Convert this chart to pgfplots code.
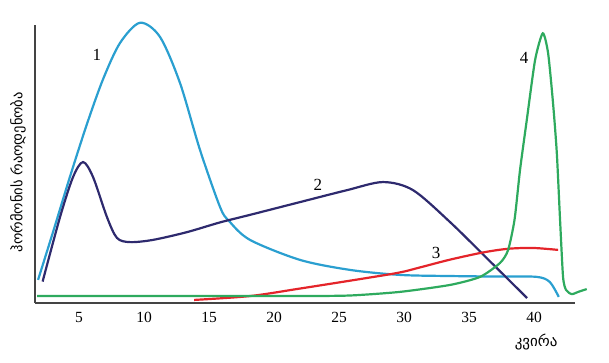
\documentclass[border=0pt]{standalone}
\usepackage{pgfplots}
\pgfplotsset{compat=1.18}
\usepackage{fontspec}
\setmainfont{Liberation Serif}
\newfontfamily\geo{DejaVu Sans}
\definecolor{cA}{HTML}{2A9FD0}
\definecolor{cB}{HTML}{2E2A6E}
\definecolor{cC}{HTML}{E4242A}
\definecolor{cD}{HTML}{2EAA5E}
\definecolor{axc}{HTML}{444444}
\begin{document}
\begin{tikzpicture}
\useasboundingbox (-35pt,-60pt) rectangle (574pt,303pt);
\begin{axis}[
  at={(0pt,0pt)}, anchor=south west,
  scale only axis, width=540pt, height=278pt,
  xmin=1.615, xmax=43.15, ymin=0, ymax=100,
  axis lines=left,
  axis line style={axc, line width=1.3pt, -},
  xtick={5,10,...,40}, ytick=\empty,
  major tick length=0pt,
  tick label style={font=\fontsize{15.5}{18}\selectfont},
  /pgf/number format/assume math mode=true,
  xticklabel style={yshift=-6pt},
  clip=false,
  xlabel={\geo კვირა},
  xlabel style={at={(axis description cs:0.928,-0.140)}, anchor=center, font=\fontsize{15}{17}\selectfont},
  ylabel={\geo ჰორმონის რაოდენობა},
  ylabel style={at={(axis description cs:-0.0315,0.471)}, anchor=center, rotate=0, font=\fontsize{14.5}{17}\selectfont},
  every axis plot/.append style={line width=2.2pt, no marks},
]
% 1
\addplot[cA, smooth, tension=0.5] coordinates {
(1.85,8.3) (3.0,25.5) (4.31,45.5) (5.62,64.5) (6.85,80.5) (8.15,93.5) (9.69,100.8)
(11.23,95.7) (12.77,79.1) (14.31,55.0) (15.85,34.5) (16.54,29.5) (18.15,22.7)
(22.0,15.5) (25.85,11.9) (29.69,10.1) (33.54,9.7) (37.5,9.5) (40.2,9.4) (41.2,7.6) (41.9,2.2)};
% 2
\addplot[cB, smooth, tension=0.5] coordinates {
(2.2,7.7) (3.54,30.9) (4.54,45.3) (5.31,50.7) (6.08,45.3) (7.15,30.9) (7.92,23.4)
(8.92,21.9) (10.69,22.7) (13.31,25.5) (15.85,29.0) (18.15,31.7) (22.0,36.3) (25.62,40.6)
(28.38,43.5) (30.69,40.6) (33.54,29.1) (36.5,15.5) (39.46,1.8)};
% 3
\addplot[cC, smooth, tension=0.5] coordinates {
(13.85,1.1) (18.15,2.5) (22.0,5.2) (27.15,9.0) (29.69,11.0) (31.23,12.8)
(33.54,15.6) (36.1,18.2) (38.0,19.5) (39.9,19.8) (41.85,19.1)};
% 4
\addplot[cD, smooth, tension=0.4] coordinates {
(1.77,2.5) (13.85,2.5) (22.0,2.5) (25.85,2.7) (29.69,4.0) (33.54,6.5) (35.85,9.4)
(37.38,14.4) (38.0,19.0) (38.5,30.0) (38.92,47.8) (39.44,65.8) (40.08,87.4) (40.67,97.0)
(41.08,89.9) (41.46,71.9) (41.75,54.0) (42.0,29.9) (42.23,9.4) (42.46,4.7)
(42.9,3.2) (43.4,4.0) (44.05,5.0)};
\node[font=\fontsize{17}{20}\selectfont] at (axis cs:6.38,89.2) {1};
\node[font=\fontsize{17}{20}\selectfont] at (axis cs:23.38,42.4) {2};
\node[font=\fontsize{17}{20}\selectfont] at (axis cs:32.46,18.0) {3};
\node[font=\fontsize{17}{20}\selectfont] at (axis cs:39.23,88.1) {4};
\end{axis}
\end{tikzpicture}
\end{document}
